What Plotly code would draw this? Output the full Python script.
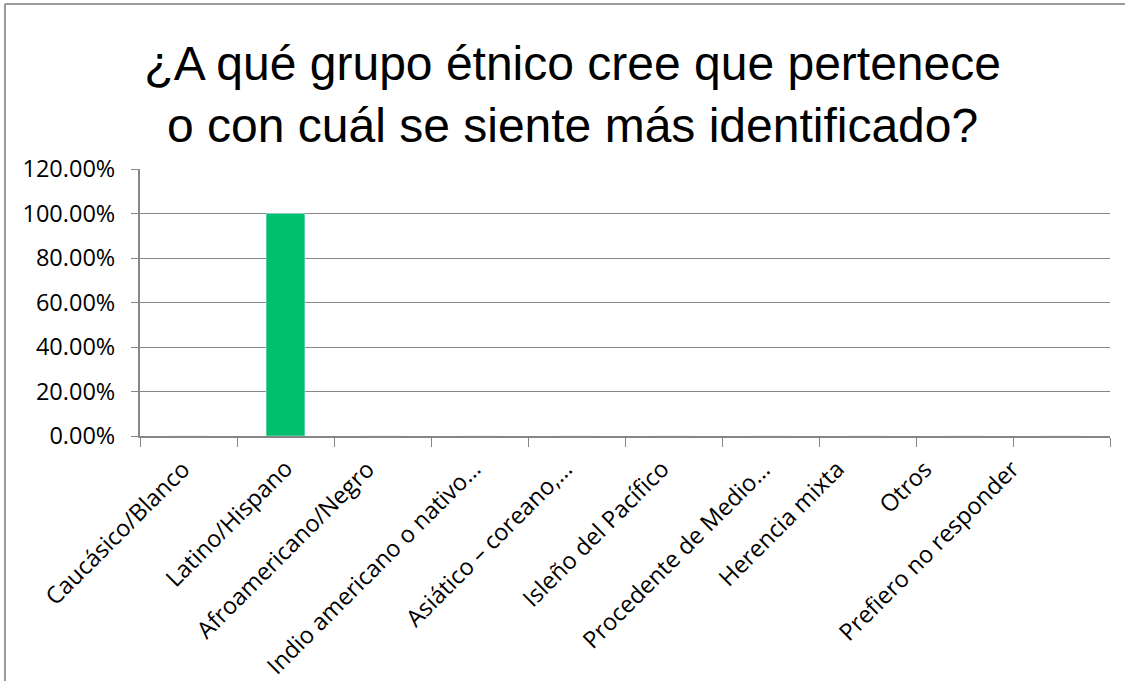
import plotly.graph_objects as go

categories = [
    "Caucásico/Blanco",
    "Latino/Hispano",
    "Afroamericano/Negro",
    "Indio americano o nativo…",
    "Asiático – coreano,…",
    "Isleño del Pacífico",
    "Procedente de Medio…",
    "Herencia mixta",
    "Otros",
    "Prefiero no responder",
]
values = [0, 1.0, 0, 0, 0, 0, 0, 0, 0, 0]
y_ticks = [0, 0.2, 0.4, 0.6, 0.8, 1.0, 1.2]

title = "¿A qué grupo étnico cree que pertenece<br>o con cuál se siente más identificado?"
grey = "#868686"
label_font = dict(family="Open Sans", size=23.5, color="black")

fig = go.Figure(go.Bar(x=categories, y=values, marker_color="#00BF6F", width=0.4))

fig.update_layout(
    width=1125,
    height=681,
    margin=dict(l=140, r=15, t=169, b=245),
    paper_bgcolor="white",
    plot_bgcolor="white",
    showlegend=False,
    title=dict(
        text=title,
        x=0.509,
        xanchor="center",
        y=1 - 80 / 681,
        yanchor="top",
        yref="container",
        font=dict(family="Liberation Sans", size=48, color="black"),
    ),
)
fig.update_xaxes(
    type="category",
    range=[-0.5, len(categories) - 0.5],
    tickson="boundaries",
    ticks="outside",
    ticklen=9,
    tickcolor=grey,
    tickwidth=1,
    showline=True,
    linecolor=grey,
    linewidth=2,
    showgrid=False,
    showticklabels=False,
)
fig.update_yaxes(
    range=[0, 1.2],
    tickvals=y_ticks,
    tickformat=".2%",
    ticks="outside",
    ticklen=7,
    tickcolor=grey,
    showline=True,
    linecolor=grey,
    linewidth=2,
    showgrid=True,
    gridcolor=grey,
    gridwidth=1,
    zeroline=False,
    tickfont=label_font,
    ticklabelstandoff=11,
)

# slanted category labels, nudged the way the original chart places them
label_shift = [0, 5, -10, -1, -6, -6, -2, -25, -34, -44]
for cat, dx in zip(categories, label_shift):
    fig.add_annotation(
        x=cat, y=0, xref="x", yref="paper",
        text=cat, textangle=-45, showarrow=False,
        xanchor="right", yanchor="top",
        xshift=dx + 11, yshift=-14,
        font=label_font,
    )

# outer chart frame (left and top edges)
frame = dict(color="#9a9a9a", width=2)
fig.add_shape(type="line", xref="paper", yref="paper",
              x0=-0.1392, x1=-0.1392, y0=1.618, y1=-1.0, line=frame)
fig.add_shape(type="line", xref="paper", yref="paper",
              x0=-0.1392, x1=1.1, y0=1.618, y1=1.618, line=frame)

# page has a default 8px body margin; drop it so the chart fills the window
fig.write_html("out.html", config={"displayModeBar": False},
               post_script="document.body.style.margin='0';")
